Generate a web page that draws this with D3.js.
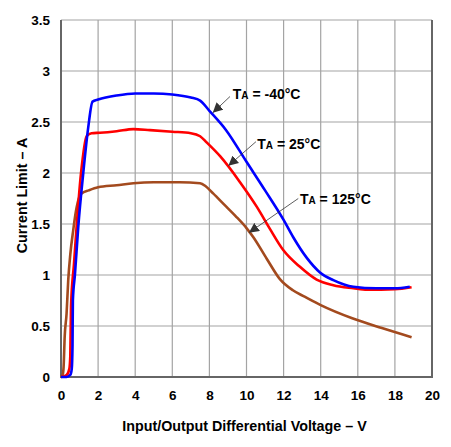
<!DOCTYPE html>
<html lang="en">
<head>
<meta charset="UTF-8">
<title>Current Limit vs Input/Output Differential Voltage</title>
<style>
  body { margin: 0; background: #fff; }
  svg { display: block; font-family: "Liberation Sans", Arial, sans-serif; font-weight: bold; }
  .grid line { stroke: #a4a4a4; stroke-width: 1.2; }
  .tick text { fill: #000; }
</style>
</head>
<body>
<div id="chart"></div>
<script src="https://d3js.org/d3.v7.min.js"></script>
<script>
// curve data (V, A)
const vBlue = [0, 0.3, 0.5, 0.58, 0.62, 0.64, 0.75, 0.93, 1.2, 1.47, 1.7, 2.0, 3.0, 4.0, 5.0, 6.0, 7.0, 7.5, 8.0, 8.9, 10.0, 11.0, 12.0, 12.52, 13.24, 13.96, 14.68, 15.76, 17.0, 18.0, 18.8];
const aBlue = [0, 0, 0.02, 0.08, 0.3, 0.75, 1.0, 1.47, 2.0, 2.45, 2.7, 2.72, 2.76, 2.78, 2.78, 2.77, 2.74, 2.71, 2.61, 2.42, 2.11, 1.83, 1.54, 1.37, 1.17, 1.025, 0.95, 0.885, 0.87, 0.87, 0.885];

const vRed = [0, 0.3, 0.45, 0.5, 0.54, 0.7, 1.08, 1.38, 1.65, 2.1, 3.0, 3.9, 4.8, 6.0, 7.0, 7.5, 7.85, 8.6, 9.65, 10.55, 11.27, 11.98, 12.88, 13.78, 14.68, 15.76, 16.5, 18.0, 18.9];
const aRed = [0, 0.02, 0.08, 0.2, 0.69, 1.11, 2.0, 2.36, 2.39, 2.395, 2.41, 2.43, 2.42, 2.405, 2.39, 2.36, 2.3, 2.16, 1.91, 1.67, 1.45, 1.245, 1.08, 0.955, 0.90, 0.87, 0.855, 0.86, 0.88];

const vBrown = [0, 0.1, 0.14, 0.2, 0.3, 0.39, 0.5, 0.66, 0.8, 1.0, 1.11, 1.5, 2.0, 3.0, 3.9, 5.0, 6.4, 7.5, 7.8, 8.2, 8.8, 9.4, 10.0, 10.37, 11.09, 11.8, 12.5, 13.16, 14.0, 15.7, 17.3, 18.9];
const aBrown = [0, 0.03, 0.1, 0.4, 0.62, 0.95, 1.2, 1.44, 1.62, 1.77, 1.80, 1.83, 1.86, 1.88, 1.90, 1.91, 1.91, 1.90, 1.87, 1.80, 1.69, 1.58, 1.46, 1.37, 1.16, 0.96, 0.85, 0.785, 0.705, 0.576, 0.48, 0.39];

const xTicks = [0, 2, 4, 6, 8, 10, 12, 14, 16, 18, 20];
const yTicks = [0, 0.5, 1, 1.5, 2, 2.5, 3, 3.5];

// labels: temp text, text position, arrow start, arrow tip (data units)
const labelTemps = ["-40°C", "25°C", "125°C"];
const labelPos = [[9.26, 2.725], [10.58, 2.24], [12.88, 1.70]];
const arrowFrom = [[9.11, 2.75], [10.51, 2.307], [12.79, 1.75]];
const arrowTo = [[8.18, 2.59], [9.02, 2.07], [10.13, 1.415]];

const width = 451, height = 447;
const margin = {top: 20, right: 19, bottom: 70, left: 61};

const svg = d3.select('#chart').append('svg')
    .attr('width', width)
    .attr('height', height);

const x = d3.scaleLinear().domain([0, 20]).range([margin.left, width - margin.right]);
const y = d3.scaleLinear().domain([0, 3.5]).range([height - margin.bottom, margin.top]);

// grid
const grid = svg.append('g').attr('class', 'grid');
grid.selectAll('.vg')
    .data(xTicks.filter(d => d > 0 && d < 20))
    .enter().append('line')
    .attr('x1', d => x(d)).attr('x2', d => x(d))
    .attr('y1', y(0)).attr('y2', y(3.5));
grid.selectAll('.hg')
    .data(yTicks.filter(d => d > 0))
    .enter().append('line')
    .attr('x1', x(0)).attr('x2', x(20))
    .attr('y1', d => y(d)).attr('y2', d => y(d));

// frame (left, bottom, right darker)
svg.append('path')
    .attr('d', `M${x(0)},${y(3.5)}V${y(0)}H${x(20)}V${y(3.5)}`)
    .attr('fill', 'none')
    .attr('stroke', '#666')
    .attr('stroke-width', 2);

// axes
const xAxis = svg.append('g')
    .attr('transform', `translate(0,${y(0)})`)
    .call(d3.axisBottom(x).tickValues(xTicks).tickSize(0).tickPadding(13));
const yAxis = svg.append('g')
    .attr('transform', `translate(${x(0)},0)`)
    .call(d3.axisLeft(y).tickValues(yTicks).tickSize(0).tickPadding(11).tickFormat(d3.format('')));
[xAxis, yAxis].forEach(a => {
    a.select('.domain').remove();
    a.selectAll('text').style('font-size', '13.5px').style('font-weight', 'bold').style('font-family', '"Liberation Sans", Arial, sans-serif');
});

// axis titles
svg.append('text')
    .attr('x', (x(0) + x(20)) / 2 - 2)
    .attr('y', 431)
    .attr('text-anchor', 'middle')
    .style('font-size', '14.3px')
    .text('Input/Output Differential Voltage \u2013 V');
svg.append('text')
    .attr('transform', `translate(27,${(y(0) + y(3.5)) / 2 - 3}) rotate(-90)`)
    .attr('text-anchor', 'middle')
    .style('font-size', '14.3px')
    .text('Current Limit \u2013 A');

// curves
const series = [
    {v: vBlue, a: aBlue, color: '#0000ff'},
    {v: vRed, a: aRed, color: '#ff0000'},
    {v: vBrown, a: aBrown, color: '#a34a1e'}
];
const line = d3.line().x(d => x(d[0])).y(d => y(d[1])).curve(d3.curveMonotoneX);
svg.selectAll('.curve')
    .data(series.slice().reverse())
    .enter().append('path')
    .attr('class', 'curve')
    .attr('d', s => line(s.v.map((v, i) => [v, s.a[i]])))
    .attr('fill', 'none')
    .attr('stroke', s => s.color)
    .attr('stroke-width', 2.6)
    .attr('stroke-linejoin', 'round');

// arrow marker
svg.append('defs').append('marker')
    .attr('id', 'head')
    .attr('viewBox', '0 0 10 10')
    .attr('refX', 10).attr('refY', 5)
    .attr('markerWidth', 10).attr('markerHeight', 10)
    .attr('markerUnits', 'userSpaceOnUse')
    .attr('orient', 'auto')
    .append('path')
    .attr('d', 'M0,0L10,5L0,10Z')
    .attr('fill', '#333');

labelTemps.forEach((t, i) => {
    svg.append('line')
        .attr('x1', x(arrowFrom[i][0])).attr('y1', y(arrowFrom[i][1]))
        .attr('x2', x(arrowTo[i][0])).attr('y2', y(arrowTo[i][1]))
        .attr('stroke', '#333')
        .attr('stroke-width', 0.8)
        .attr('marker-end', 'url(#head)');
    const txt = svg.append('text')
        .attr('x', x(labelPos[i][0]))
        .attr('y', y(labelPos[i][1]))
        .style('font-size', '14px');
    txt.append('tspan').text('T');
    txt.append('tspan').style('font-size', '10px').text('A');
    txt.append('tspan').text(' = ' + t);
});
</script>
</body>
</html>
